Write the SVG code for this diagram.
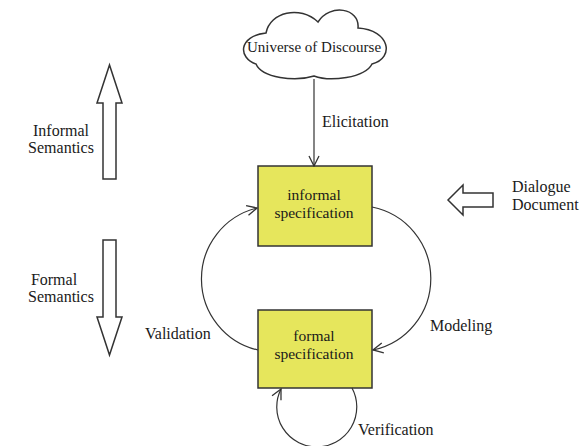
<svg xmlns="http://www.w3.org/2000/svg" width="581" height="446" viewBox="0 0 581 446">
<style>
text{font-family:'Liberation Serif','Times New Roman',serif;font-size:16px;fill:#1a1a1a}
.bt{font-size:15.5px}
.box{fill:#e6e65c;stroke:#333;stroke-width:1.5}
.c{fill:none;stroke:#333;stroke-width:1.2}
.big{fill:#fff;stroke:#333;stroke-width:1.5;stroke-linejoin:miter}
</style>
<defs>
<marker id="v" viewBox="0 0 12 12" refX="11" refY="6" markerWidth="12" markerHeight="12" markerUnits="userSpaceOnUse" orient="auto">
<path d="M1,1 L11,6 L1,11" fill="none" stroke="#333" stroke-width="1.3"/>
</marker>
</defs>
<g id="cloud">
<path class="big" d="M256,64 C238,58 238,36 266,33 C270,12 300,5 318,22 C330,3 360,8 358,28 C390,30 395,58 372,64 C365,78 330,82 314,76 C295,82 262,78 256,64 Z"/>
<text x="314" y="52" text-anchor="middle" style="font-size:15px">Universe of Discourse</text>
</g>
<g id="informal">
<rect class="box" x="258" y="166" width="114" height="80"/>
<text class="bt" x="314" y="200" text-anchor="middle">informal</text>
<text class="bt" x="314" y="218" text-anchor="middle">specification</text>
</g>
<g id="formal">
<rect class="box" x="258" y="310" width="114" height="78"/>
<text class="bt" x="314" y="341" text-anchor="middle">formal</text>
<text class="bt" x="314" y="359" text-anchor="middle">specification</text>
</g>
<g id="connectors">
<path class="c" d="M314,79 L314,166" marker-end="url(#v)"/>
<path class="c" d="M372,207 A73,73 0 0 1 373,350" marker-end="url(#v)"/>
<path class="c" d="M258,350 A73,73 0 0 1 257,208" marker-end="url(#v)"/>
<path class="c" d="M352,388 A40,40 0 1 1 281,389" marker-end="url(#v)"/>
</g>
<g id="labels">
<text x="322" y="127">Elicitation</text>
<text x="430" y="331">Modeling</text>
<text x="145" y="339">Validation</text>
<text x="358" y="435">Verification</text>
</g>
<g id="informal-semantics">
<path class="big" d="M103,179 L103,103 L97,103 L109.5,65 L122,103 L116,103 L116,179 Z"/>
<text x="61" y="136" text-anchor="middle">Informal</text>
<text x="61" y="153" text-anchor="middle">Semantics</text>
</g>
<g id="formal-semantics">
<path class="big" d="M103,240 L103,317 L97,317 L109.5,355 L122,317 L116,317 L116,240 Z"/>
<text x="54" y="285" text-anchor="middle">Formal</text>
<text x="61" y="302" text-anchor="middle">Semantics</text>
</g>
<g id="dialogue">
<path class="big" d="M493,193 L463,193 L463,185 L448,200 L463,215 L463,207 L493,207 Z"/>
<text x="512" y="192">Dialogue</text>
<text x="512" y="210">Document</text>
</g>
</svg>
